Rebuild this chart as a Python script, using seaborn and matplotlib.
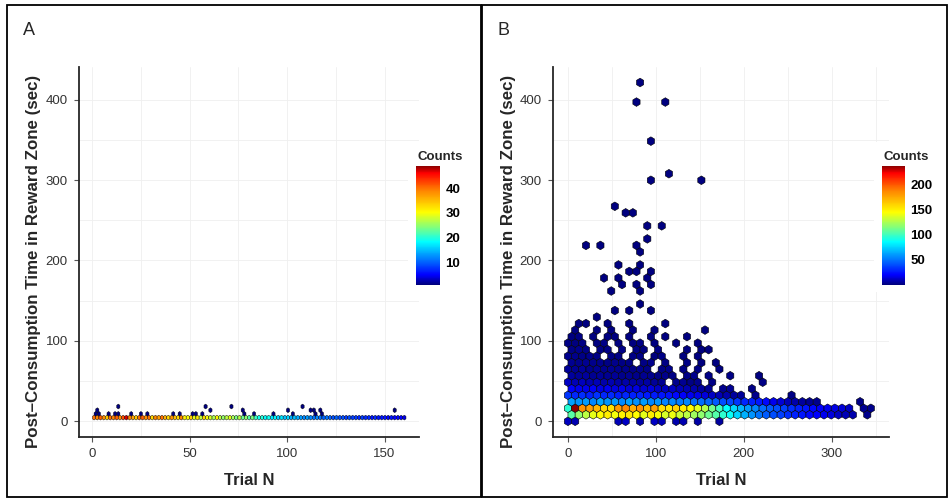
import numpy as np
import matplotlib
matplotlib.use("Agg")
import matplotlib.pyplot as plt
import seaborn as sns
from matplotlib.colors import LinearSegmentedColormap
from matplotlib.patches import Rectangle

# ---------------- data (hex bins) ----------------
# Panel A: hex columns along trial axis, bin size in (trial, sec)
A_SX, A_SY = 1.66, 9.2
# counts of the main band (hex row 1, ~4.6 sec), one value per hex column
a_band_counts = [40, 39, 41, 38, 34, 40, 39, 41, 38, 42,
                 47, 39, 37, 34, 40, 41, 38, 40, 33, 39,
                 37, 40, 36, 33, 38, 35, 33, 39, 31, 30,
                 34, 29, 32, 27, 33, 30, 28, 26, 31, 27,
                 25, 27, 29, 26, 24, 27, 23, 25, 22, 24,
                 21, 19, 20, 18, 19, 17, 18, 16, 17, 15,
                 16, 14, 15, 14, 13, 12, 13, 12, 11, 12,
                 11, 10, 11, 10, 9, 10, 9, 9, 8, 9,
                 8, 8, 7, 8, 7, 7, 6, 7, 6, 6,
                 6, 5, 6, 5, 5, 5, 4]
# single observations above the band
a_outlier_trial = [2, 3.75, 8, 11.5, 13.2, 20, 25.7, 27.7, 41.4, 44, 51.7, 53.8, 56,
                   78.3, 83.4, 93.2, 103.1, 115, 117.5,
                   3.2, 60.6, 76.9, 100.5, 111.7, 114.2, 116.4, 155.9,
                   14, 57.7, 71.4, 107.4]
a_outlier_time = [9.2] * 19 + [13.8] * 8 + [18.4] * 4

# Panel B: counts per hex row (row r sits at r * B_SY / 2 sec), column 0 first
B_SX, B_SY = 8.2, 16.2
b_rows = [
    [11, 9, 0, 0, 0, 0, 0, 10, 12, 0, 8, 0, 12, 10, 0, 8, 9, 0, 7, 0, 0, 6],
    [105, 118, 128, 138, 145, 150, 142, 148, 152, 145, 138, 150, 143, 135, 140, 132,
     128, 122, 118, 110, 104, 96, 88, 75, 66, 58, 50, 44, 40, 36, 32, 28, 25, 22, 20,
     18, 15, 12, 10, 8, 0, 3],
    [95, 236, 182, 178, 170, 158, 155, 180, 186, 172, 182, 168, 178, 156, 152, 160,
     150, 146, 136, 126, 112, 100, 86, 76, 68, 60, 55, 48, 44, 40, 36, 32, 28, 25, 22,
     20, 18, 16, 14, 12, 0, 4, 3],
    [62, 58, 60, 55, 63, 58, 60, 56, 62, 57, 60, 55, 58, 54, 56, 52, 55, 50, 48, 46,
     44, 40, 38, 34, 30, 28, 26, 22, 18, 14, 10, 8, 6, 4, 3, 0, 0, 0, 0, 0, 2],
    [34, 30, 32, 28, 33, 30, 31, 27, 30, 28, 29, 26, 27, 25, 24, 22, 20, 18, 17, 15,
     12, 10, 8, 6, 5, 0, 3, 0, 0, 0, 0, 2],
    [20, 18, 17, 19, 16, 18, 15, 17, 14, 16, 13, 15, 12, 11, 12, 10, 9, 8, 6, 5, 0, 3,
     4, 0, 0, 2],
    [12, 10, 11, 9, 10, 8, 9, 7, 8, 7, 6, 7, 5, 4, 0, 3, 4, 2, 3, 0, 2, 0, 0, 0, 0, 0,
     0, 2],
    [6, 5, 6, 4, 5, 4, 5, 3, 4, 3, 4, 3, 2, 3, 2, 0, 2, 3, 0, 2, 0, 0, 2, 0, 0, 0, 1],
    [5, 4, 5, 3, 4, 3, 4, 3, 3, 2, 3, 2, 0, 2, 3, 0, 2, 0, 2, 0, 0, 1],
    [4, 3, 4, 3, 3, 2, 3, 2, 2, 0, 2, 3, 0, 2, 0, 0, 2, 0, 1, 0, 1],
    [3, 3, 2, 3, 2, 0, 2, 2, 0, 2, 2, 0, 1, 2, 0, 0, 1, 0, 1],
    [2, 3, 2, 0, 2, 2, 0, 2, 0, 2, 1, 0, 2, 0, 0, 0, 1, 0, 1, 1],
    [2, 1, 2, 0, 1, 2, 0, 1, 0, 1, 2, 0, 1, 0, 0, 1, 0, 0, 1],
    [1, 2, 0, 1, 0, 1, 1, 0, 1, 0, 0, 1, 0, 1, 0, 0, 1],
    [0, 1, 0, 0, 1, 0, 1, 0, 0, 1, 0, 0, 1, 0, 0, 0, 0, 0, 0, 1],
    [0, 0, 1, 0, 0, 1, 0, 0, 1, 0, 0, 0, 0, 1],
]
# isolated long visits (one observation each)
b_sparse_trial = [78, 74.2, 112.8, 97.7, 97.7, 117, 151.9, 51.5, 62.8, 70.5, 86.4, 109,
                  94, 20.5, 35.6, 74.2, 78, 55.3, 78, 66.7, 74.2, 97.7, 39.4, 55.3, 94,
                  59, 81.8, 97.7, 47.7, 78, 78, 51.5, 66.7, 97.7, 31.8, 12.8]
b_sparse_time = [421.5, 396.7, 396.7, 348, 299.4, 307.7, 299.4, 267, 258.8, 258.8, 242.6,
                 242.6, 226.5, 218.6, 218.6, 218.6, 210.3, 194.7, 194.7, 186.3, 186.3,
                 186.3, 178.5, 178.5, 178.5, 170.2, 170.2, 170.2, 161.9, 161.9, 146.2,
                 137.9, 137.9, 137.9, 129.6, 125.5]


def grid_points(rows, sx, sy, first_row=0):
    xs, ys, cs = [], [], []
    for k, row in enumerate(rows):
        r = first_row + k
        for c, n in enumerate(row):
            if n > 0:
                xs.append((c + 0.5 * (r % 2)) * sx)
                ys.append(r * sy / 2)
                cs.append(n)
    return xs, ys, cs


# ---------------- style ----------------
sns.set_theme(style="white")
plt.rcParams['font.family'] = ['Liberation Sans', 'DejaVu Sans']

jet = LinearSegmentedColormap.from_list(
    "jetcolors", [(0.0, "#00007F"), (0.08, "#0000FF"), (0.22, "#007FFF"),
                  (0.36, "#00FFFF"), (0.48, "#7FFF7F"), (0.61, "#FFFF00"),
                  (0.80, "#FF7F00"), (0.94, "#FF0000"), (1.0, "#8B0000")])

W, H = 949, 500


def fig_box(l, t, r, b):
    return [l / W, 1 - b / H, (r - l) / W, (b - t) / H]


fig = plt.figure(figsize=(W / 100, H / 100), dpi=100)
axA = fig.add_axes(fig_box(79, 67, 419, 437))
axB = fig.add_axes(fig_box(553, 67, 889, 437))

# ---------------- panel A ----------------
ax_, ay_, ac_ = grid_points([[], a_band_counts], A_SX, A_SY)
ax_ += a_outlier_trial
ay_ += a_outlier_time
ac_ += [1] * len(a_outlier_trial)
hbA = axA.hexbin(ax_, ay_, C=ac_, reduce_C_function=np.sum, gridsize=(98, 4),
                 extent=(0, 98 * A_SX, 0, 4 * A_SY), cmap=jet, vmin=1, vmax=49,
                 edgecolors="black", linewidths=0.3, zorder=3)

# ---------------- panel B ----------------
bx_, by_, bc_ = grid_points(b_rows, B_SX, B_SY)
bx_ += b_sparse_trial
by_ += b_sparse_time
bc_ += [1] * len(b_sparse_trial)
hbB = axB.hexbin(bx_, by_, C=bc_, reduce_C_function=np.sum, gridsize=(44, 28),
                 extent=(0, 44 * B_SX, 0, 28 * B_SY), cmap=jet, vmin=1, vmax=236,
                 edgecolors="black", linewidths=0.4, zorder=3)

for ax, xlim, xt, xm in ((axA, (-6.9, 167.7), [0, 50, 100, 150], [25, 75, 125]),
                         (axB, (-17, 365), [0, 100, 200, 300], [50, 150, 250, 350])):
    ax.set_facecolor("white")
    ax.set_xlim(*xlim)
    ax.set_ylim(-19.5, 440.5)
    ax.set_xticks(xt)
    ax.set_xticks(xm, minor=True)
    ax.set_yticks([0, 100, 200, 300, 400])
    ax.set_yticks([50, 150, 250, 350], minor=True)
    ax.grid(True, which="both", color="#EFEFEF", lw=0.6)
    ax.set_axisbelow(True)
    for s in ("top", "right"):
        ax.spines[s].set_visible(False)
    for s in ("left", "bottom"):
        ax.spines[s].set_color("#262626")
        ax.spines[s].set_linewidth(1.3)
    ax.tick_params(which="major", length=3.5, width=0.8, color="#555555",
                   labelsize=9.5, labelcolor="#333333", pad=4.5, bottom=True, left=True)
    ax.tick_params(which="minor", length=0)
    ax.set_xlabel("Trial N", fontsize=12, fontweight="bold", labelpad=9.5)
    ax.set_ylabel("Post–Consumption Time in Reward Zone (sec)", fontsize=12.2,
                  fontweight="bold", labelpad=6)
    ax.yaxis.set_label_coords(-0.112 if ax is axA else -0.11, 0.475)

# ---------------- legends ----------------
for ax, hb, (l, r), ticks in ((axA, hbA, (416, 440), [10, 20, 30, 40]),
                              (axB, hbB, (882, 905), [50, 100, 150, 200])):
    bg = Rectangle(((l - 8) / W, 1 - 292 / H), 64 / W, 150 / H, transform=fig.transFigure,
                   facecolor="white", edgecolor="none", clip_on=False, zorder=10)
    ax.add_patch(bg)
    cax = fig.add_axes(fig_box(l, 166, r, 284.5))
    cb = fig.colorbar(hb, cax=cax, ticks=ticks)
    cb.outline.set_visible(False)
    cax.tick_params(axis="y", which="both", direction="in", length=4, width=0.8,
                    left=True, right=True, pad=4)
    cax.tick_params(axis="y", color="white")
    cax.tick_params(axis="y", labelcolor="black", labelsize=9.5)
    for t in cax.get_yticklabels():
        t.set_fontweight("bold")
    fig.text((l + 1) / W, 1 - 160 / H, "Counts", fontsize=9.5, fontweight="bold",
             ha="left", va="baseline")

# ---------------- panel frames and letters ----------------
fig.add_artist(Rectangle((7 / W, 1 - 497 / H), (481 - 7) / W, (497 - 5) / H,
                         transform=fig.transFigure, fill=False, ec="black", lw=1.3))
fig.add_artist(Rectangle((482 / W, 1 - 497 / H), (947 - 482) / W, (497 - 5) / H,
                         transform=fig.transFigure, fill=False, ec="black", lw=1.3))
fig.text(23 / W, 1 - 35 / H, "A", fontsize=13, ha="left", va="baseline")
fig.text(497 / W, 1 - 35 / H, "B", fontsize=13, ha="left", va="baseline")

fig.savefig("out.png", dpi=100)
